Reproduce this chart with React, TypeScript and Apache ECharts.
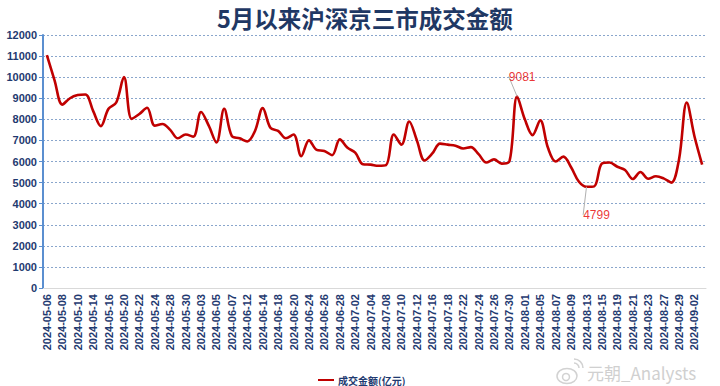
import React, { useEffect, useRef } from "react";
import * as echarts from "echarts";

const dates: string[] = [
  "2024-05-06", "2024-05-07", "2024-05-08", "2024-05-09", "2024-05-10",
  "2024-05-13", "2024-05-14", "2024-05-15", "2024-05-16", "2024-05-17",
  "2024-05-20", "2024-05-21", "2024-05-22", "2024-05-23", "2024-05-24",
  "2024-05-27", "2024-05-28", "2024-05-29", "2024-05-30", "2024-05-31",
  "2024-06-03", "2024-06-04", "2024-06-05", "2024-06-06", "2024-06-07",
  "2024-06-11", "2024-06-12", "2024-06-13", "2024-06-14",
  "2024-06-17", "2024-06-18", "2024-06-19", "2024-06-20", "2024-06-21",
  "2024-06-24", "2024-06-25", "2024-06-26", "2024-06-27", "2024-06-28",
  "2024-07-01", "2024-07-02", "2024-07-03", "2024-07-04", "2024-07-05",
  "2024-07-08", "2024-07-09", "2024-07-10", "2024-07-11", "2024-07-12",
  "2024-07-15", "2024-07-16", "2024-07-17", "2024-07-18", "2024-07-19",
  "2024-07-22", "2024-07-23", "2024-07-24", "2024-07-25", "2024-07-26",
  "2024-07-29", "2024-07-30", "2024-07-31",
  "2024-08-01", "2024-08-02",
  "2024-08-05", "2024-08-06", "2024-08-07", "2024-08-08", "2024-08-09",
  "2024-08-12", "2024-08-13", "2024-08-14", "2024-08-15", "2024-08-16",
  "2024-08-19", "2024-08-20", "2024-08-21", "2024-08-22", "2024-08-23",
  "2024-08-26", "2024-08-27", "2024-08-28", "2024-08-29", "2024-08-30",
  "2024-09-02", "2024-09-03",
];

// 成交金额 (亿元)
const turnover: number[] = [
  11050, 9850, 8700, 9000, 9150, 9180, 8400, 7680, 8500, 8800,
  10000, 8020, 8250, 8550, 7700, 7780, 7500, 7100, 7280, 7180,
  8350, 7700, 6900, 8500, 7200, 7100, 6950, 7450, 8530, 7600,
  7450, 7100, 7280, 6250, 7000, 6550, 6500, 6300, 7050, 6650,
  6420, 5870, 5850, 5800, 5830, 7280, 6800, 7900, 7000, 6050,
  6380, 6850, 6800, 6750, 6620, 6680, 6350, 5950, 6100, 5900,
  6000, 9081, 8000, 7250, 7950, 6650, 6000, 6230, 5730, 5050,
  4799, 4820, 5900, 5950, 5750, 5600, 5170, 5500, 5180, 5300,
  5200, 5000, 6100, 8800, 7200, 5850,
];

const annotatedIdx: number[] = [61, 70];
const seriesName = "成交金额(亿元)";
const titleText = "5月以来沪深京三市成交金额";
const watermark = "元朝_Analysts";

export default function App() {
  const ref = useRef<HTMLDivElement>(null);
  useEffect(() => {
    document.body.style.margin = "0";
    const chart = echarts.init(ref.current!, null, { renderer: "svg" });
    const navy = "#1f3a70";
    const annotated = annotatedIdx.map((i) => [i, turnover[i]]);
    chart.setOption({
      animation: false,
      backgroundColor: "#ffffff",
      title: {
        text: titleText,
        left: 212,
        top: 1,
        textStyle: {
          fontFamily: "Noto Sans CJK SC",
          fontWeight: "bold",
          fontSize: 23.5,
          color: "#1f3864",
        },
      },
      grid: { left: 43, right: 14, top: 35, bottom: 98 },
      legend: {
        data: [seriesName],
        left: 313,
        top: 370,
        icon: "rect",
        itemWidth: 16,
        itemHeight: 2,
        itemGap: 4,
        textStyle: {
          fontFamily: "Noto Sans CJK SC",
          fontWeight: "bold",
          fontSize: 10,
          color: navy,
          padding: [0, 0, 0, -1],
        },
      },
      xAxis: {
        type: "category",
        data: dates,
        boundaryGap: true,
        axisLine: { lineStyle: { color: "#d9d9d9", width: 1 } },
        axisTick: { show: false },
        axisLabel: {
          interval: 1,
          rotate: 90,
          margin: 6,
          fontSize: 11,
          fontWeight: "bold",
          fontFamily: "Liberation Sans",
          color: navy,
        },
      },
      yAxis: {
        type: "value",
        min: 0,
        max: 12000,
        interval: 1000,
        axisLine: { show: true, lineStyle: { color: "#5b8fd0", width: 2 } },
        axisTick: { show: true, length: 4, lineStyle: { color: "#5b8fd0", width: 1 } },
        axisLabel: {
          margin: 6,
          fontSize: 11,
          fontWeight: "bold",
          fontFamily: "Liberation Sans",
          color: navy,
          formatter: (v: number) => String(v),
        },
        splitLine: { lineStyle: { type: [2, 2], color: "#8aa6cc", width: 1 } },
      },
      series: [
        {
          name: seriesName,
          type: "line",
          data: turnover,
          smooth: 0.35,
          showSymbol: false,
          lineStyle: { color: "#c00000", width: 2.6 },
          itemStyle: { color: "#c00000" },
          z: 3,
        },
        {
          type: "scatter",
          data: annotated,
          symbolSize: 0,
          silent: true,
          z: 4,
          label: {
            show: true,
            position: "top",
            distance: 4,
            fontSize: 12,
            fontFamily: "Liberation Sans",
            color: "#e60000",
            formatter: (p: any) => String(p.value[1]),
          },
          labelLine: { show: true, lineStyle: { color: "#b0b0b0", width: 1 } },
          labelLayout: (p: any) =>
            p.dataIndex === 0 ? { dx: 5, dy: -10 } : { dx: 10, dy: 38 },
        },
      ],
      graphic: [
        {
          type: "ellipse",
          shape: { cx: 567, cy: 376, rx: 10, ry: 7.5 },
          style: { fill: "none", stroke: "#d2d2d2", lineWidth: 1.5 },
        },
        {
          type: "circle",
          shape: { cx: 566, cy: 377, r: 3.5 },
          style: { fill: "none", stroke: "#d2d2d2", lineWidth: 1.5 },
        },
        {
          type: "arc",
          shape: { cx: 574, cy: 368, r: 5, startAngle: -Math.PI / 2, endAngle: 0 },
          style: { fill: "none", stroke: "#d2d2d2", lineWidth: 1.5 },
        },
        {
          type: "arc",
          shape: { cx: 574, cy: 368, r: 9, startAngle: -Math.PI / 2, endAngle: 0 },
          style: { fill: "none", stroke: "#d2d2d2", lineWidth: 1.5 },
        },
        {
          type: "text",
          left: 587,
          top: 364,
          style: {
            text: watermark,
            font: "17px 'Noto Sans CJK SC'",
            fill: "#d0d0d0",
          },
        },
      ],
    });
    return () => chart.dispose();
  }, []);
  return (
    <div
      ref={ref}
      style={{ position: "fixed", left: 0, top: 0, width: 720, height: 386, background: "#fff" }}
    />
  );
}
